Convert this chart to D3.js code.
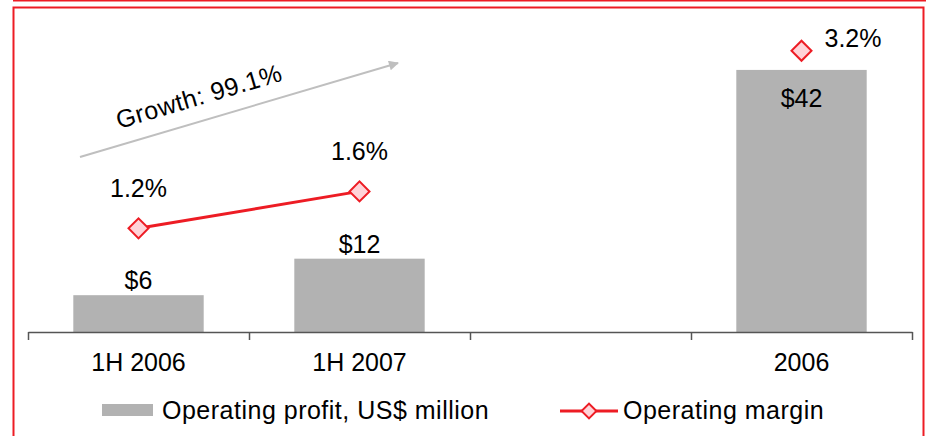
<!DOCTYPE html>
<meta charset="utf-8">
<script src="https://d3js.org/d3.v7.min.js"></script>
<style>
  body { margin: 0; background: #fff; }
  text { font-family: "Liberation Sans", Arial, sans-serif; fill: #000; }
</style>
<div id="viz"></div>
<script>
    // data
    const categories = ["1H 2006", "1H 2007", "", "2006"];
    const profit = [5.9, 11.75, null, 42];          // US$ million
    const profitLabels = ["$6", "$12", "", "$42"];
    const margin = [1.18, 1.6, null, 3.2];          // %
    const marginLabels = ["1.2%", "1.6%", "", "3.2%"];
    const growthLabel = "Growth: 99.1%";
    const legendLabels = ["Operating profit, US$ million", "Operating margin"];

    const W = 926, H = 436;
    const plot = {left: 28, right: 912, top: 20, bottom: 332};

    const svg = d3.select("#viz").append("svg")
        .attr("width", W).attr("height", H);

    // frame
    svg.append("line").attr("x1", 13).attr("x2", W).attr("y1", 0.5).attr("y2", 0.5)
      .attr("stroke", "#ed1c24").attr("stroke-width", 2);
    svg.append("path").attr("d", `M13.5,${H}V7.5H923.5V${H}`)
      .attr("fill", "none").attr("stroke", "#ed1c24").attr("stroke-width", 2);

    const x = d3.scaleBand().domain(categories).range([plot.left, plot.right]);
    const y = d3.scaleLinear().domain([0, 50]).range([plot.bottom, plot.top]);
    const y2 = d3.scaleLinear().domain([0, 3.55]).range([plot.bottom, plot.top]);
    const barW = x.bandwidth() * 0.59;
    const cx = c => x(c) + x.bandwidth() / 2;

    const data = categories.map((c, i) => ({c, p: profit[i], pl: profitLabels[i], m: margin[i], ml: marginLabels[i]}));

    // bars
    svg.selectAll(".bar").data(data.filter(d => d.p != null)).enter().append("rect")
        .attr("class", "bar")
        .attr("x", d => cx(d.c) - barW / 2)
        .attr("width", barW)
        .attr("y", d => y(d.p))
        .attr("height", d => y(0) - y(d.p))
        .attr("fill", "#b2b2b2");

    // bar labels ($42 sits inside the bar)
    svg.selectAll(".blabel").data(data.filter(d => d.p != null)).enter().append("text")
        .attr("class", "blabel")
        .attr("text-anchor", "middle")
        .style("font-size", "25px")
        .attr("x", d => cx(d.c))
        .attr("y", d => d.p > 40 ? y(d.p) + 37 : y(d.p) - 6)
        .text(d => d.pl);

    // x axis: ticks on band boundaries
    const xb = d3.scaleLinear().domain([0, categories.length]).range([plot.left, plot.right]);
    const ax = svg.append("g")
        .attr("transform", `translate(0,${plot.bottom})`)
        .call(d3.axisBottom(xb).tickValues(d3.range(categories.length + 1))
          .tickFormat("").tickSize(8).tickSizeOuter(0));
    ax.select(".domain").attr("stroke", "#555").attr("stroke-width", 1.5);
    ax.selectAll(".tick line").attr("stroke", "#555").attr("stroke-width", 1.5);

    const axl = svg.append("g")
        .attr("transform", `translate(0,${plot.bottom})`)
        .call(d3.axisBottom(x).tickSize(0).tickPadding(0));
    axl.select(".domain").remove();
    axl.selectAll("text")
        .attr("dy", null).attr("y", 39)
        .style("font-size", "25px")
        .attr("fill", "#000");
    svg.selectAll("g").attr("font-family", null).attr("font-size", null);

    // margin line (broken over the empty category)
    const line = d3.line()
        .defined(d => d.m != null)
        .x(d => cx(d.c)).y(d => y2(d.m));
    svg.append("path").datum(data.slice(0, 2))
        .attr("d", line)
        .attr("fill", "none").attr("stroke", "#ed1c24").attr("stroke-width", 3);

    const diamond = d3.symbol().type(d3.symbolSquare).size(200);
    svg.selectAll(".pt").data(data.filter(d => d.m != null)).enter().append("path")
        .attr("class", "pt")
        .attr("d", diamond)
        .attr("transform", d => `translate(${cx(d.c)},${y2(d.m)}) rotate(45)`)
        .attr("fill", "#ffd3d8").attr("stroke", "#ed1c24").attr("stroke-width", 2);

    svg.selectAll(".mlabel").data(data.filter(d => d.m != null)).enter().append("text")
        .attr("class", "mlabel")
        .style("font-size", "25px")
        .attr("text-anchor", (d, i) => i === 2 ? "start" : "middle")
        .attr("x", (d, i) => i === 2 ? cx(d.c) + 23 : cx(d.c))
        .attr("y", (d, i) => i === 2 ? y2(d.m) - 4 : y2(d.m) - 31)
        .text(d => d.ml);

    // growth arrow
    svg.append("defs").append("marker")
        .attr("id", "arr").attr("viewBox", "0 0 10 10")
        .attr("refX", 9).attr("refY", 5)
        .attr("markerWidth", 14).attr("markerHeight", 10)
        .attr("markerUnits", "userSpaceOnUse")
        .attr("orient", "auto")
      .append("path").attr("d", "M0,0L10,5L0,10Z").attr("fill", "#bfbfbf");
    svg.append("line")
        .attr("x1", 80).attr("y1", 157).attr("x2", 398).attr("y2", 63)
        .attr("stroke", "#bfbfbf").attr("stroke-width", 2)
        .attr("marker-end", "url(#arr)");
    svg.append("text")
        .attr("transform", "translate(119,129) rotate(-16.5)")
        .style("font-size", "25px").style("letter-spacing", "0.5px")
        .text(growthLabel);

    // legend
    const lg = svg.append("g");
    lg.append("rect").attr("x", 102).attr("y", 404).attr("width", 51).attr("height", 12)
        .attr("fill", "#b2b2b2");
    lg.append("text").attr("x", 162).attr("y", 419)
        .style("font-size", "25px").style("letter-spacing", "0.5px")
        .text(legendLabels[0]);
    lg.append("line").attr("x1", 560).attr("x2", 618).attr("y1", 411).attr("y2", 411)
        .attr("stroke", "#ed1c24").attr("stroke-width", 3);
    lg.append("path").attr("d", d3.symbol().type(d3.symbolSquare).size(110))
        .attr("transform", "translate(589,411) rotate(45)")
        .attr("fill", "#ffd3d8").attr("stroke", "#ed1c24").attr("stroke-width", 2);
    lg.append("text").attr("x", 623).attr("y", 419)
        .style("font-size", "25px").style("letter-spacing", "0.5px")
        .text(legendLabels[1]);
</script>
